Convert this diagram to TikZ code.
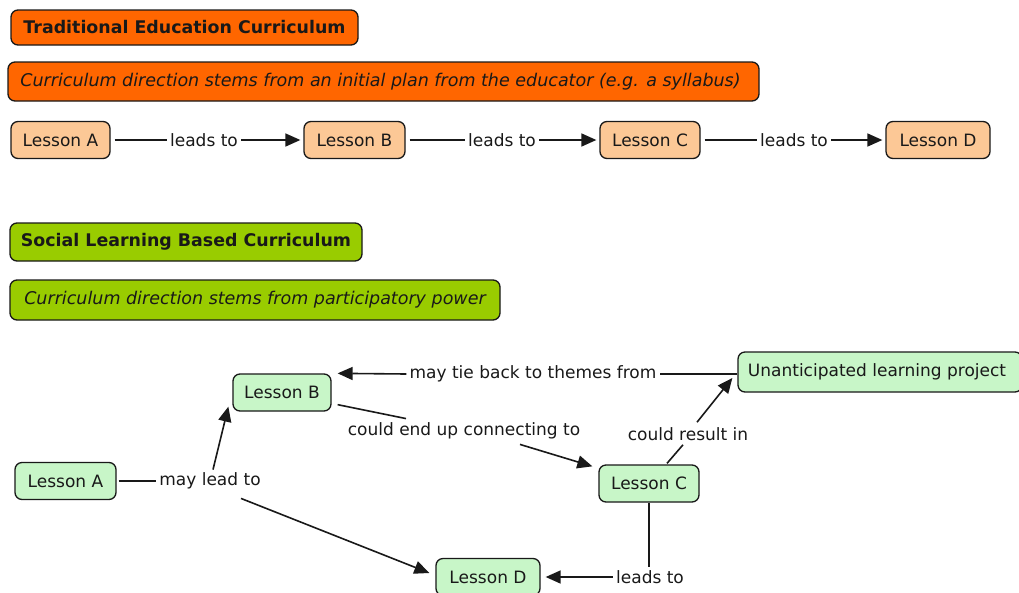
\documentclass[tikz,border=0pt]{standalone}
\usepackage{fontspec}
\setmainfont{DejaVu Sans}
\usetikzlibrary{arrows.meta,calc}
\definecolor{ordark}{RGB}{255,102,0}
\definecolor{orlight}{RGB}{252,200,150}
\definecolor{grdark}{RGB}{153,204,0}
\definecolor{grlight}{RGB}{200,246,200}
\definecolor{ink}{RGB}{25,25,25}
\begin{document}
\begin{tikzpicture}[x=1pt,y=-1pt,
  box/.style={draw=ink, line width=1.3pt, rounded corners=7pt, inner sep=0pt,
    text=ink, font=\fontsize{17}{20}\selectfont},
  lesson/.style={box, minimum height=37pt},
  linklabel/.style={inner sep=3pt, text=ink, font=\fontsize{17}{20}\selectfont},
  conn/.style={line width=1.6pt, draw=ink},
  arr/.style={conn, -{Triangle[length=15pt,width=13pt]}}]
\useasboundingbox (0,0) rectangle (1019,592);
\fill[white] (0,0) rectangle (1019,592);

% ---- Traditional curriculum ----
\node[box, fill=ordark, minimum width=347pt, minimum height=35pt, font=\fontsize{17.4}{20}\selectfont\bfseries] (T1) at (184.5,27.5) {Traditional Education Curriculum};
\node[box, fill=ordark, minimum width=751pt, minimum height=39pt, font=\fontsize{17.5}{20}\selectfont\itshape] (S1) at (383.5,81.5) {Curriculum direction stems from an initial plan from the educator (e.g. a syllabus)\hspace*{6pt}};

\node[lesson, fill=orlight, minimum width=99pt] (A1) at (60.5,140) {Lesson A};
\node[lesson, fill=orlight, minimum width=101pt] (B1) at (354.5,140) {Lesson B};
\node[lesson, fill=orlight, minimum width=100pt] (C1) at (650,140) {Lesson C};
\node[lesson, fill=orlight, minimum width=104pt] (D1) at (938,140) {Lesson D};

\node[linklabel] (l1) at (204,140) {leads to};
\node[linklabel] (l2) at (502,140) {leads to};
\node[linklabel] (l3) at (794,140) {leads to};

\draw[conn, shorten <=4pt] (A1.east) -- (A1.east -| l1.west);
\draw[arr, shorten >=3pt] (l1.east) -- (l1.east -| B1.west);
\draw[conn, shorten <=4pt] (B1.east) -- (B1.east -| l2.west);
\draw[arr, shorten >=3pt] (l2.east) -- (l2.east -| C1.west);
\draw[conn, shorten <=4pt] (C1.east) -- (C1.east -| l3.west);
\draw[arr, shorten >=3pt] (l3.east) -- (l3.east -| D1.west);

% ---- Social learning curriculum ----
\node[box, fill=grdark, minimum width=352pt, minimum height=38pt, font=\fontsize{17.4}{20}\selectfont\bfseries] (T2) at (186,242) {Social Learning Based Curriculum};
\node[box, fill=grdark, minimum width=490pt, minimum height=40pt, font=\fontsize{17.5}{20}\selectfont\itshape] (S2) at (255,300) {Curriculum direction stems from participatory power};

\node[lesson, fill=grlight, minimum width=98pt] (B2) at (282,392.5) {Lesson B};
\node[lesson, fill=grlight, minimum width=101pt] (A2) at (65.5,481) {Lesson A};
\node[lesson, fill=grlight, minimum width=100pt] (C2) at (649,483.5) {Lesson C};
\node[lesson, fill=grlight, minimum width=104pt] (D2) at (488,577) {Lesson D};
\node[box, fill=grlight, minimum width=284pt, minimum height=40pt] (U2) at (880,372) {Unanticipated learning project\hspace*{6pt}};

\node[linklabel] (tie) at (533,374) {may tie back to themes from};
\node[linklabel] (cnx) at (464,431) {could end up connecting to};
\node[linklabel] (res) at (688,434) {could result in};
\node[linklabel] (mlt) at (210,481) {may lead to};
\node[linklabel] (lt) at (650,577) {leads to};

% project ties back to lesson B
\draw[conn] (tie.east -| U2.west) -- (tie.east);
\draw[arr] (tie.west) -- ($(B2.north east)+(6,0)$);
% lesson B to lesson C
\draw[conn] ($(B2.south east)+(6,-7)$) -- ($(cnx.north)+(-58,-1)$);
\draw[arr] ($(cnx.south)+(56,2)$) -- ($(C2.north west)+(-6,2)$);
% lesson C to project
\draw[conn] ($(C2.north)+(18,-1)$) -- ($(res.south)+(-5,1)$);
\draw[arr] ($(res.north)+(9,-2)$) -- ($(U2.west)+(-5,6)$);
% lesson A to lessons B and D
\draw[conn, shorten <=2pt] (A2.east) -- (A2.east -| mlt.west);
\draw[arr] ($(mlt.north)+(3,0)$) -- ($(B2.south west)+(-4,-5)$);
\draw[arr] ($(mlt.south)+(31,6)$) -- ($(D2.west)+(-6,-4)$);
% lesson C to lesson D
\draw[conn] (C2.south) -- (C2.south |- lt.north);
\draw[arr, shorten >=5pt] (lt.west) -- (lt.west -| D2.east);
\end{tikzpicture}
\end{document}
